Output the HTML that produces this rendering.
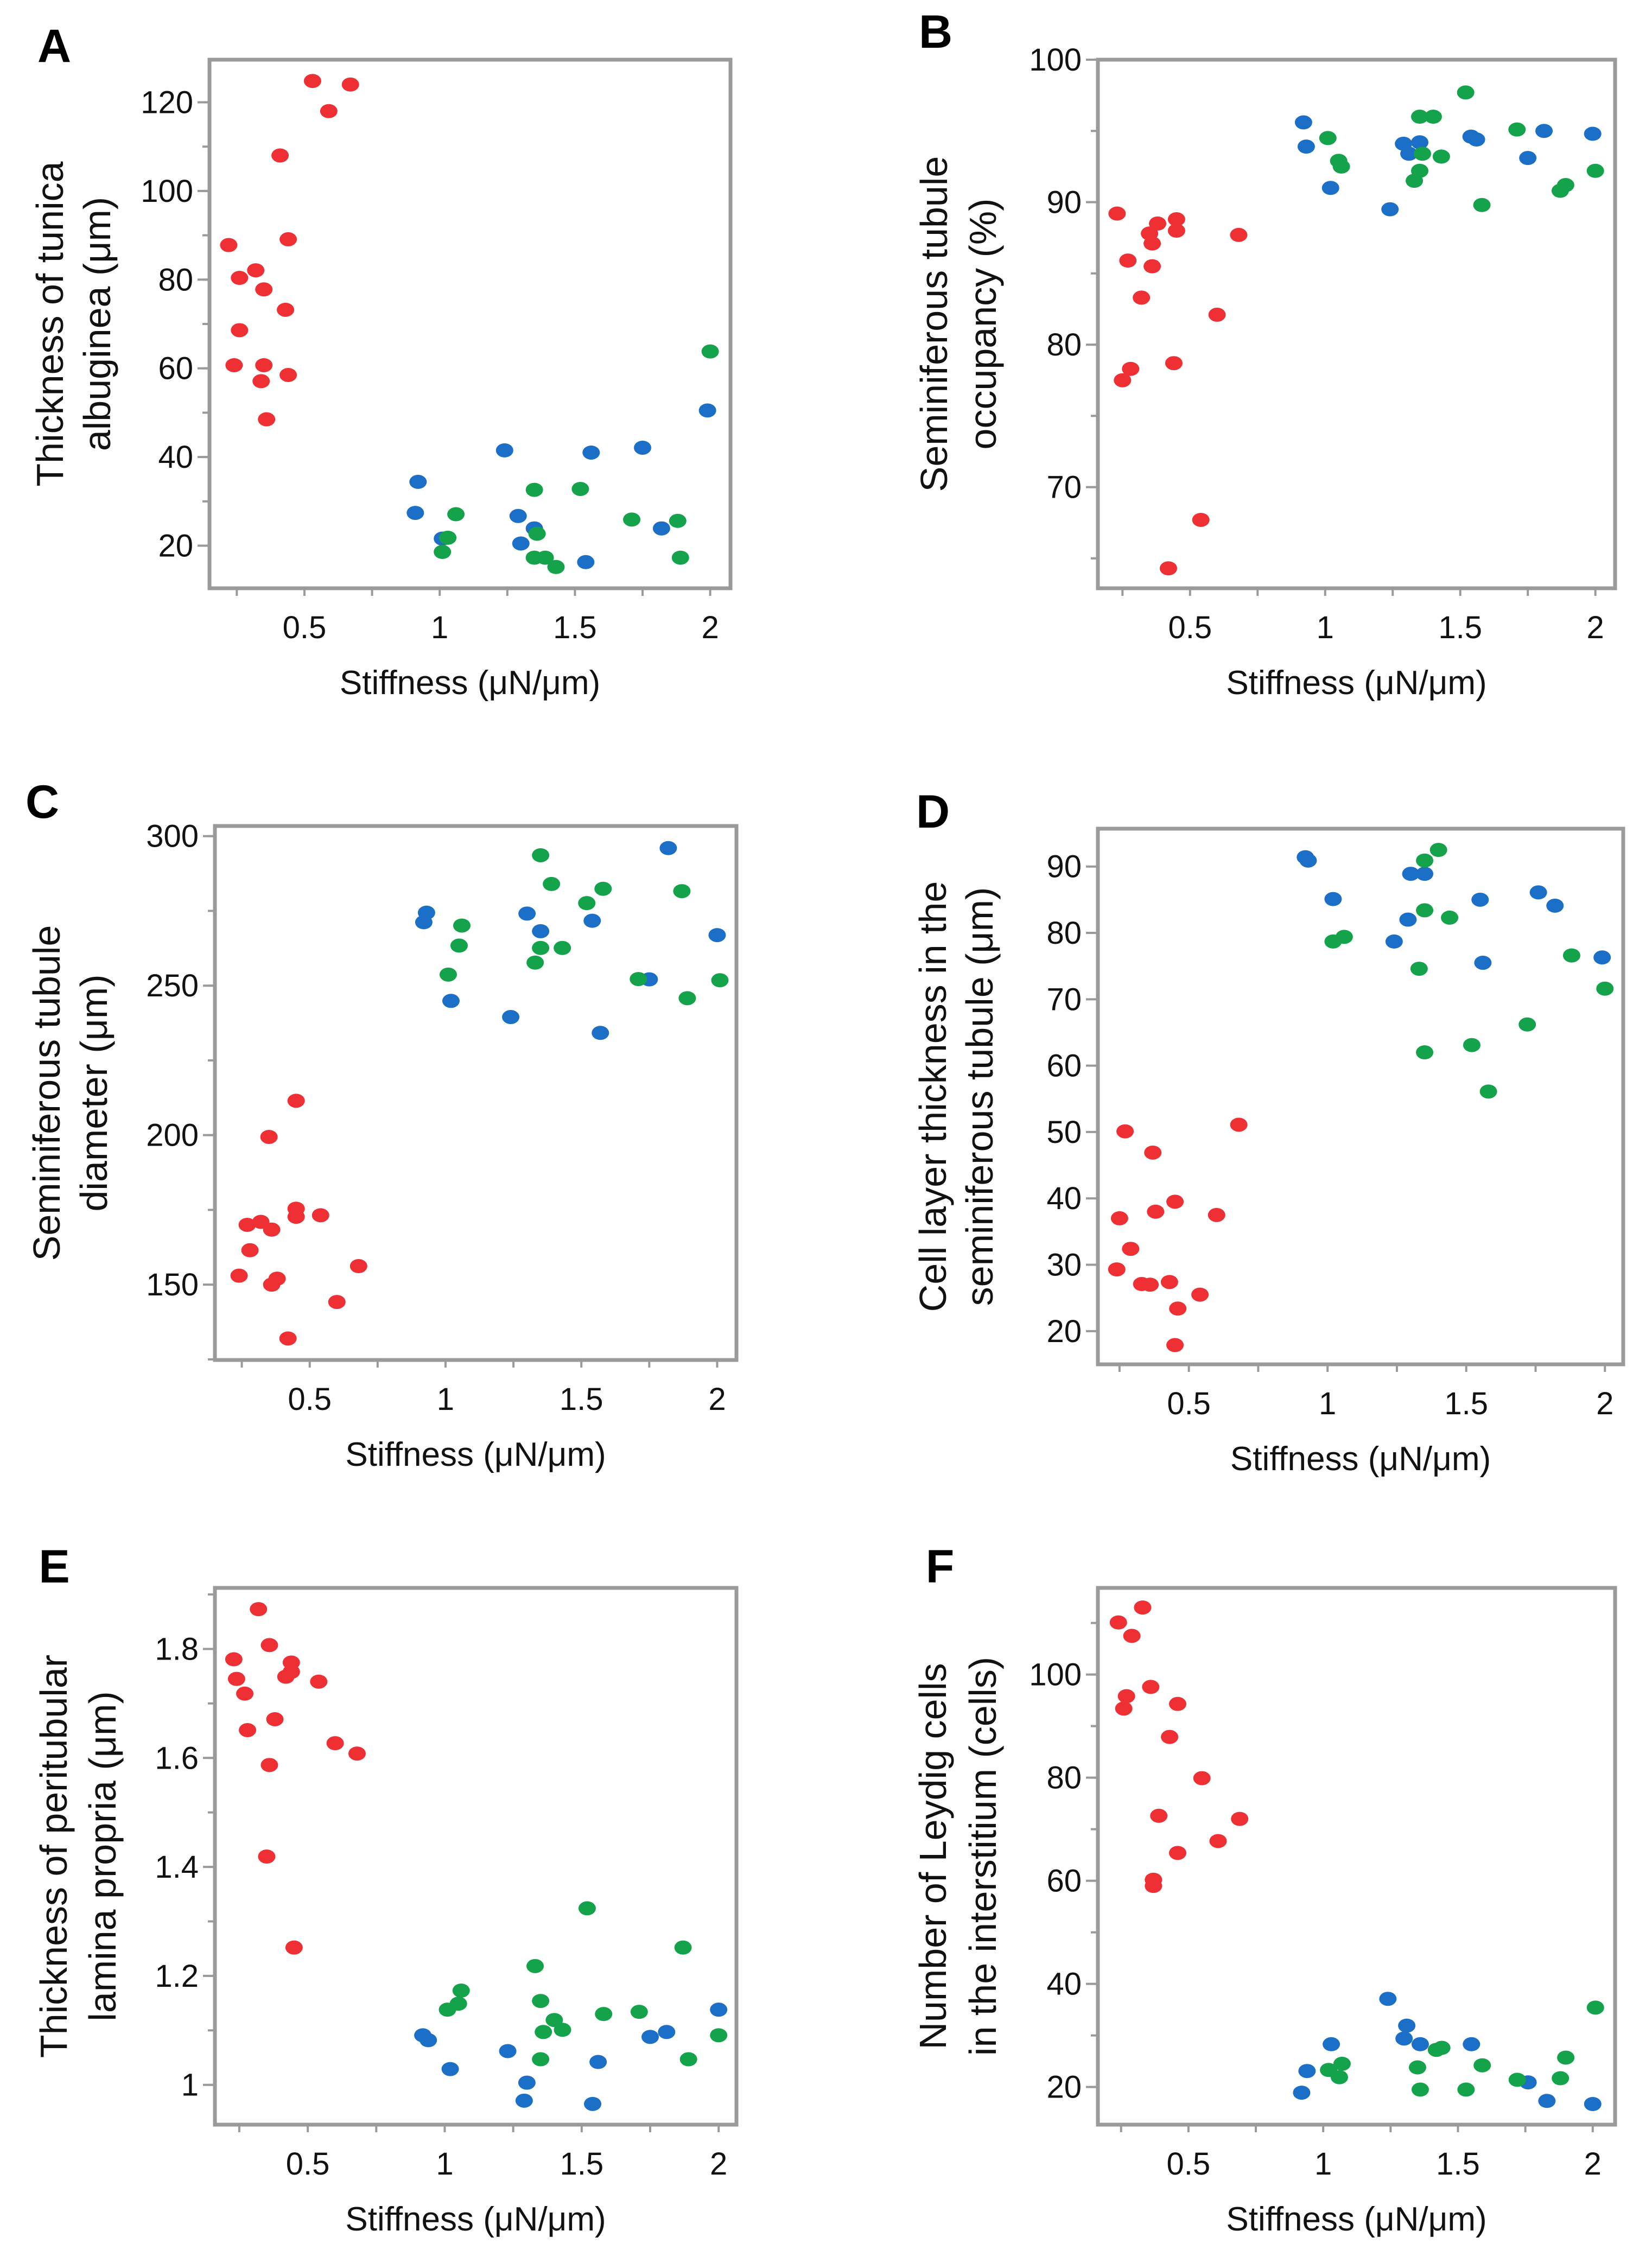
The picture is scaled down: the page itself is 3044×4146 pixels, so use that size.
<!DOCTYPE html>
<html><head><meta charset="utf-8"><style>
html,body{margin:0;padding:0;background:#fff;}
svg{display:block;font-family:"Liberation Sans",Arial,sans-serif;}
</style></head><body>
<svg id="fig" width="3044" height="4146" viewBox="0 0 3044 4146" xmlns="http://www.w3.org/2000/svg"></svg>
<script>
// ---- Panel A data ----
const aRedX=[.53,.67,.59,.41,.22,.44,.26,.32,.35,.43,.26,.24,.35,.34,.44,.36];
const aRedY=[124.8,124,118,108,87.8,89.1,80.4,82.1,77.8,73.2,68.6,60.7,60.7,57.1,58.5,48.5];
const aBlueX=[.92,.91,1.01,1.24,1.29,1.30,1.35,1.56,1.54,1.75,1.82,1.99];
const aBlueY=[34.4,27.4,21.6,41.5,26.7,20.5,23.9,41.0,16.3,42.1,23.9,50.5];
const aGreenX=[1.06,1.03,1.01,1.35,1.36,1.35,1.39,1.43,1.52,1.71,1.88,1.89,2.0];
const aGreenY=[27.1,21.8,18.6,32.6,22.7,17.3,17.3,15.2,32.8,25.9,25.6,17.3,63.8];
const aYTicks=[20,40,60,80,100,120];
// ---- Panel B data ----
const bRedX=[.23,.27,.32,.36,.36,.35,.38,.45,.45,.68,.60,.25,.28,.44,.54,.42];
const bRedY=[89.2,85.9,83.3,85.5,87.1,87.8,88.5,88.8,88.0,87.7,82.1,77.5,78.3,78.7,67.7,64.3];
const bBlueX=[.92,.93,1.02,1.24,1.29,1.31,1.35,1.54,1.56,1.81,1.75,1.99];
const bBlueY=[95.6,93.9,91.0,89.5,94.1,93.4,94.2,94.6,94.4,95.0,93.1,94.8];
const bGreenX=[1.01,1.05,1.06,1.35,1.40,1.36,1.35,1.33,1.43,1.52,1.58,1.71,1.87,1.89,2.0];
const bGreenY=[94.5,92.9,92.5,96.0,96.0,93.4,92.2,91.5,93.2,97.7,89.8,95.1,90.8,91.2,92.2];
const bYTicks=[70,80,90,100];
// ---- Panel C data ----
const cRedX=[.45,.35,.27,.32,.36,.45,.45,.54,.28,.24,.38,.36,.68,.60,.42];
const cRedY=[211.5,199.4,170,171,168.4,175.4,172.7,173.2,161.5,153,152,150,156.2,144.2,132];
const cBlueX=[.93,.92,1.02,1.30,1.35,1.54,1.24,1.57,1.75,1.82,2.0];
const cBlueY=[274.4,271.2,244.9,274.1,268.2,271.7,239.5,234.2,252.1,296,266.9];
const cGreenX=[1.35,1.39,1.06,1.05,1.01,1.35,1.43,1.33,1.52,1.58,1.71,1.87,1.89,2.01];
const cGreenY=[293.6,284,270.1,263.4,253.7,262.6,262.6,257.7,277.6,282.4,252.2,281.6,245.8,251.8];
const cYTicks=[150,200,250,300];
// ---- Panel D data ----
const dRedX=[.27,.37,.68,.25,.45,.38,.60,.29,.24,.33,.36,.43,.46,.54,.45];
const dRedY=[50.1,46.9,51.1,37,39.5,38,37.5,32.4,29.3,27.1,27,27.4,23.4,25.5,17.9];
const dBlueX=[.92,.93,1.02,1.30,1.35,1.29,1.24,1.55,1.56,1.76,1.82,1.99];
const dBlueY=[91.4,90.9,85.1,88.9,88.9,82,78.7,85,75.5,86.1,84.1,76.3];
const dGreenX=[1.40,1.35,1.35,1.44,1.02,1.06,1.33,1.35,1.52,1.58,1.72,1.88,2.0];
const dGreenY=[92.5,90.9,83.4,82.3,78.7,79.4,74.6,62,63.1,56.1,66.2,76.6,71.6];
const dYTicks=[20,30,40,50,60,70,80,90];
// ---- Panel E data ----
const eRedX=[.32,.36,.23,.24,.27,.28,.38,.44,.44,.42,.54,.60,.68,.36,.35,.45];
const eRedY=[1.873,1.807,1.781,1.745,1.718,1.651,1.671,1.775,1.758,1.749,1.740,1.627,1.608,1.587,1.419,1.252];
const eBlueX=[.92,.94,1.02,1.23,1.30,1.29,1.56,1.54,1.75,1.81,2.0];
const eBlueY=[1.091,1.082,1.029,1.062,1.004,.971,1.042,.965,1.088,1.097,1.138];
const eGreenX=[1.01,1.05,1.06,1.33,1.35,1.36,1.40,1.43,1.35,1.52,1.58,1.71,1.87,1.89,2.0];
const eGreenY=[1.138,1.149,1.173,1.218,1.154,1.097,1.119,1.101,1.047,1.324,1.130,1.134,1.252,1.047,1.091];
const eYTicks=[1,1.2,1.4,1.6,1.8];
// ---- Panel F data ----
const fRedX=[.24,.33,.29,.27,.26,.36,.46,.43,.55,.39,.69,.61,.46,.37,.37];
const fRedY=[110.1,113,107.5,95.8,93.4,97.6,94.3,87.9,79.9,72.6,72,67.7,65.4,60.2,59];
const fBlueX=[1.24,1.31,1.30,1.36,1.03,.94,.92,1.55,1.76,1.83,2.0];
const fBlueY=[37.1,31.9,29.4,28.3,28.3,23.1,18.9,28.3,20.9,17.3,16.7];
const fGreenX=[1.02,1.06,1.07,1.35,1.36,1.42,1.44,1.59,1.53,1.72,1.88,1.90,2.01];
const fGreenY=[23.3,21.9,24.5,23.8,19.5,27.2,27.6,24.2,19.5,21.4,21.7,25.7,35.4];
const fYTicks=[20,40,60,80,100];
const xTickLabels=["0.5","1","1.5","2"];
const xTickVals=[0.5,1,1.5,2];

const NS="http://www.w3.org/2000/svg";
const svg=document.getElementById('fig');
function mk(tag,attrs,parent){const e=document.createElementNS(NS,tag);for(const k in attrs)e.setAttribute(k,attrs[k]);(parent||svg).appendChild(e);return e;}
const RED="#ee3035",BLUE="#1b6fc6",GREEN="#14a24a",AX="#9a9a9a";

function panel(cfg){
  const g=mk('g',{});
  
  
  const [L,T,R,B]=cfg.box;
  const sx=v=>L+(v-cfg.xr[0])/(cfg.xr[1]-cfg.xr[0])*(R-L);
  const sy=v=>B-(v-cfg.yr[0])/(cfg.yr[1]-cfg.yr[0])*(B-T);
  const frame=mk('rect',{x:L,y:T,width:R-L,height:B-T,fill:'none',stroke:AX,'stroke-width':7},g);
  
  
  for(let v=0.25;v<=2.001;v+=0.25){
    const t=mk('line',{x1:sx(v),x2:sx(v),y1:B+3,y2:B+14,stroke:AX,'stroke-width':4},g);
    
    
  }
  xTickVals.forEach((v,i)=>{
    const t=mk('text',{x:sx(v),y:B+92,'font-size':58,'text-anchor':'middle',fill:'#111'},g);
    t.textContent=xTickLabels[i];
    
    
  });
  const step=cfg.yt[1]-cfg.yt[0];
  if(cfg.minor){
    for(let v=cfg.yt[0]-step;v<=cfg.yr[1];v+=step/2){
      if(v<cfg.yr[0])continue;
      const t=mk('line',{x1:L-3,x2:L-13,y1:sy(v),y2:sy(v),stroke:AX,'stroke-width':4},g);
      
      
    }
  }
  cfg.yt.forEach(v=>{
    const t=mk('line',{x1:L-3,x2:L-22,y1:sy(v),y2:sy(v),stroke:AX,'stroke-width':4},g);
    
    
    const l=mk('text',{x:L-30,y:sy(v)+20,'font-size':58,'text-anchor':'end',fill:'#111'},g);
    l.textContent=String(v);
    
    
  });
  const xt=mk('text',{x:(L+R)/2,y:B+195,'font-size':62,'text-anchor':'middle',fill:'#111'},g);
  xt.textContent='Stiffness (\u03bcN/\u03bcm)';
  
  
  const cy=(T+B)/2;
  cfg.ytitle.forEach((s,i)=>{
    const xx=L+cfg.yoff[i]+24;
    const t=mk('text',{x:xx,y:cy,'font-size':70,'text-anchor':'middle',fill:'#111',transform:`rotate(-90 ${xx} ${cy})`},g);
    t.textContent=s;
    
    
  });
  const lt=mk('text',{x:L+cfg.lab[0],y:T+cfg.lab[1]+30,'font-size':86,'font-weight':'bold','text-anchor':'middle',fill:'#000'},g);
  lt.textContent=cfg.id;
  
  
  const series=[[cfg.r[0],cfg.r[1],RED,'red'],[cfg.b[0],cfg.b[1],BLUE,'blue'],[cfg.g[0],cfg.g[1],GREEN,'green']];
  series.forEach(([xs,ys,col,nm])=>{
    xs.forEach((x,i)=>{
      const c=mk('ellipse',{cx:sx(x),cy:sy(ys[i]),rx:16,ry:13,fill:col},g);
      
      
    });
  });
}

panel({id:'A',box:[386,110,1346,1084],xr:[0.149,2.075],yr:[10.4,129.6],yt:aYTicks,minor:true,
  r:[aRedX,aRedY],b:[aBlueX,aBlueY],g:[aGreenX,aGreenY],
  ytitle:['Thickness of tunica','albuginea (\u03bcm)'],yoff:[-294,-207],lab:[-286,-26]});
panel({id:'B',box:[2023,110,2976,1084],xr:[0.159,2.073],yr:[62.9,100],yt:bYTicks,minor:true,
  r:[bRedX,bRedY],b:[bBlueX,bBlueY],g:[bGreenX,bGreenY],
  ytitle:['Seminiferous tubule','occupancy (%)'],yoff:[-302,-212],lab:[-299,-52]});
panel({id:'C',box:[396,1522,1357,2506],xr:[0.151,2.071],yr:[124.8,303.4],yt:cYTicks,minor:true,
  r:[cRedX,cRedY],b:[cBlueX,cBlueY],g:[cGreenX,cGreenY],
  ytitle:['Seminiferous tubule','diameter (\u03bcm)'],yoff:[-310,-223],lab:[-318,-45]});
panel({id:'D',box:[2023,1527,2991,2514],xr:[0.172,2.066],yr:[15,95.7],yt:dYTicks,minor:false,
  r:[dRedX,dRedY],b:[dBlueX,dBlueY],g:[dGreenX,dGreenY],
  ytitle:['Cell layer thickness in the','seminiferous tubule (\u03bcm)'],yoff:[-304,-218],lab:[-304,-32]});
panel({id:'E',box:[396,2926,1357,3915],xr:[0.161,2.065],yr:[0.927,1.912],yt:eYTicks,minor:true,
  r:[eRedX,eRedY],b:[eBlueX,eBlueY],g:[eGreenX,eGreenY],
  ytitle:['Thickness of peritubular','lamina propria  (\u03bcm)'],yoff:[-297,-207],lab:[-296,-40]});
panel({id:'F',box:[2023,2926,2976,3915],xr:[0.164,2.083],yr:[12.7,116.8],yt:fYTicks,minor:true,
  r:[fRedX,fRedY],b:[fBlueX,fBlueY],g:[fGreenX,fGreenY],
  ytitle:['Number of Leydig cells','in the interstitium (cells)'],yoff:[-304,-212],lab:[-291,-40]});
</script>
</body></html>
